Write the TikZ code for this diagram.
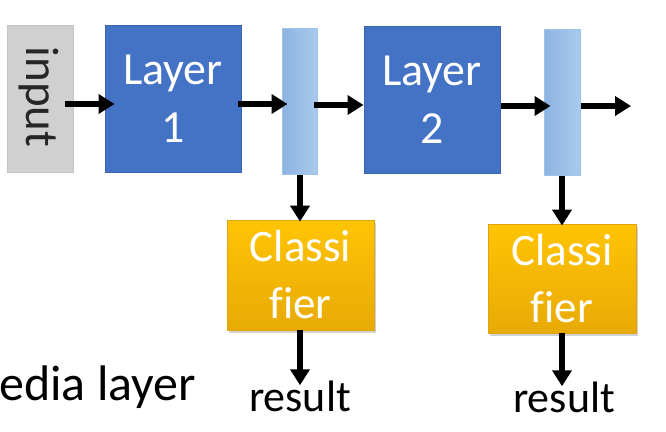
\documentclass[tikz,border=0pt]{standalone}
\usepackage{fontspec}
\setmainfont{Carlito}[Ligatures=NoCommon]
\usetikzlibrary{arrows.meta,shadows}
\definecolor{layerblue}{HTML}{4472C4}
\definecolor{layeredge}{HTML}{3B64AE}
\definecolor{barL}{HTML}{8DB3E2}
\definecolor{barR}{HTML}{AACAEC}
\definecolor{baredge}{HTML}{9DC3E6}
\definecolor{inputgray}{HTML}{D0D0D0}
\definecolor{inputedge}{HTML}{C4C4C4}
\definecolor{goldtop}{HTML}{FFC404}
\definecolor{goldbot}{HTML}{E8AA06}
\definecolor{goldedge}{HTML}{DDA510}
\begin{document}
\begin{tikzpicture}[x=1pt,y=-1pt,
  layerbox/.style={draw=layeredge,line width=1pt,fill=layerblue,minimum width=136pt,minimum height=147pt,inner sep=0pt,
    text=white,align=center,font=\fontsize{46}{58}\selectfont},
  barbox/.style={draw=baredge,line width=1pt,left color=barL,right color=barR,minimum width=35pt,minimum height=146pt,inner sep=0pt},
  inbox/.style={draw=inputedge,line width=1pt,fill=inputgray,minimum width=66pt,minimum height=147pt,inner sep=0pt},
  clsbox/.style={draw=goldedge,line width=0.8pt,top color=goldtop,bottom color=goldbot,minimum width=147pt,minimum height=110pt,inner sep=0pt,
    text=white,align=center,font=\fontsize{45}{57}\selectfont,
    drop shadow={opacity=0.35,shadow xshift=2pt,shadow yshift=-3pt}},
  restext/.style={anchor=base,inner sep=0pt,font=\fontsize{44}{50}\selectfont},
  arr/.style={-{Triangle[length=16pt,width=19pt]},line width=6pt,black}]
\useasboundingbox (0,0) rectangle (666,431);
\fill[white] (0,0) rectangle (666,431);

\node[inbox] (in) at (40,98.5) {};
\node[rotate=-90,font=\fontsize{47}{50}\selectfont,text=black!85] (intext) at (39,97) {input};
\node[layerbox] (L1) at (173,98.5) {Layer\\1};
\node[barbox] (b1) at (299.5,101) {};
\node[layerbox] (L2) at (432,99.5) {Layer\\2};
\node[barbox,minimum width=36pt] (b2) at (562,102) {};
\node[clsbox] (c1) at (300.5,275) {Classi\\f\kern0pt ier};
\node[clsbox,minimum width=148pt,minimum height=109pt] (c2) at (562,278.5) {Classi\\f\kern0pt ier};
\node[restext] (r1) at (300,411) {result};
\node[restext] (r2) at (564,412) {result};
\node[anchor=base west,inner sep=0pt,font=\fontsize{50}{56}\selectfont] (mid) at (-1,400) {edia layer};
\coordinate (out) at (631,106);

\draw[arr] ([xshift=-9pt]in.east |- 0,104) -- ([xshift=10pt]L1.west |- 0,104);
\draw[arr] ([xshift=-4pt]L1.east |- 0,104) -- ([xshift=6pt]b1.west |- 0,104);
\draw[arr] ([xshift=-4pt]b1.east |- 0,105) -- (L2.west |- 0,105);
\draw[arr] (L2.east |- 0,106) -- ([xshift=7pt]b2.west |- 0,106);
\draw[arr] (b2.east |- out) -- (out);
\draw[arr] (b1.south -| 300,0) -- ([yshift=-2pt]c1.north -| 300,0);
\draw[arr] (b2.south -| 562,0) -- ([yshift=-2pt]c2.north -| 562,0);
\draw[arr] (c1.south -| 300,0) -- ([yshift=-5pt]r1.north -| 300,0);
\draw[arr] (c2.south -| 562,0) -- ([yshift=-5pt]r2.north -| 562,0);
\end{tikzpicture}
\end{document}
